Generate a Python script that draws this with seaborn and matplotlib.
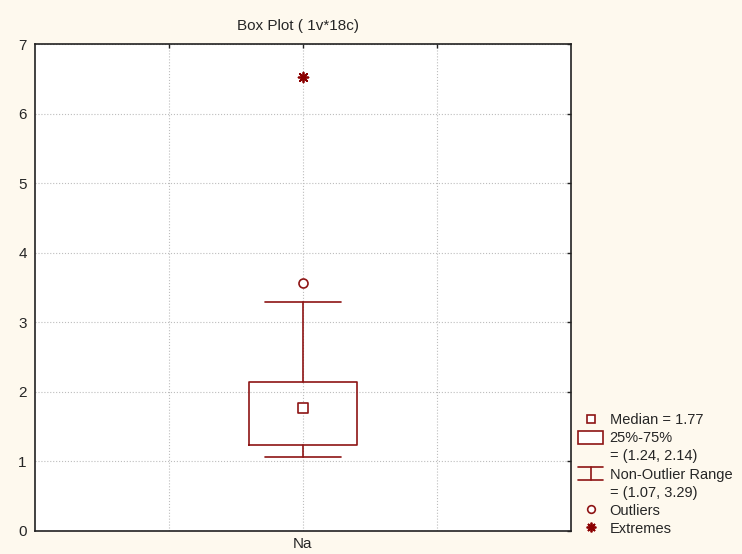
import matplotlib
matplotlib.use("Agg")
import matplotlib.pyplot as plt
import seaborn as sns
from matplotlib.lines import Line2D
from matplotlib.patches import Rectangle
from matplotlib.legend_handler import HandlerBase

# --- data ---
variable = "Na"
median = 1.77
q1, q3 = 1.24, 2.14
whisker_lo, whisker_hi = 1.07, 3.29
outliers = [3.56]
extremes = [6.52]

BOX_COLOR = "#8E1414"
BG = "#FEF9EE"

sns.set_style("white")
plt.rcParams["font.family"] = ["Liberation Sans", "DejaVu Sans"]
plt.rcParams["font.size"] = 10.5


class WhiskerHandler(HandlerBase):
    # draws the little "I" shaped non-outlier range symbol
    def create_artists(self, legend, orig_handle, xdescent, ydescent,
                       width, height, fontsize, trans):
        x0, x1 = -xdescent, -xdescent + width
        y0, y1 = -ydescent, -ydescent + height
        xm = (x0 + x1) / 2
        segs = [([x0, x1], [y1, y1]), ([xm, xm], [y0, y1]), ([x0, x1], [y0, y0])]
        out = []
        for xs, ys in segs:
            ln = Line2D(xs, ys, color=orig_handle.get_color(), lw=1.2)
            ln.set_transform(trans)
            out.append(ln)
        return out


fig = plt.figure(figsize=(7.42, 5.54), dpi=100, facecolor=BG)
ax = fig.add_axes([35 / 742, 1 - 531 / 554, 536 / 742, 487 / 554])
ax.set_facecolor("white")

stats = [{"med": median, "q1": q1, "q3": q3,
          "whislo": whisker_lo, "whishi": whisker_hi,
          "fliers": [], "label": variable}]
ax.bxp(stats, positions=[0], widths=0.8, capwidths=0.56, showfliers=False,
       boxprops=dict(color=BOX_COLOR, lw=1.2),
       whiskerprops=dict(color=BOX_COLOR, lw=1.2),
       capprops=dict(color=BOX_COLOR, lw=1.2),
       medianprops=dict(visible=False), manage_ticks=False)

# markers for median / outliers / extremes
sns.scatterplot(x=[0], y=[median], marker="s", s=42, facecolor="white",
                edgecolor=BOX_COLOR, linewidth=1.2, ax=ax, zorder=5)
sns.scatterplot(x=[0] * len(outliers), y=outliers, marker="o", s=42,
                facecolor="white", edgecolor=BOX_COLOR, linewidth=1.2, ax=ax, zorder=5)
sns.scatterplot(x=[0] * len(extremes), y=extremes, marker=(8, 2, 0), s=50,
                color="#8B0000", edgecolor="#8B0000", linewidth=1.3, ax=ax, zorder=5)

ax.set_xlim(-2, 2)
ax.set_ylim(0, 7)
ax.set_xticks([-1, 0, 1])
ax.set_xticklabels(["", variable, ""])
ax.set_yticks(range(0, 8))
ax.set_xlabel("")
ax.set_ylabel("")
ax.grid(True, linestyle=":", color="#BDBDBD", lw=0.8)
ax.set_axisbelow(True)
ax.tick_params(direction="in", length=3, width=1, color="#222222",
               top=True, right=True, labelsize=11)
ax.tick_params(axis="y", pad=6)
ax.tick_params(axis="x", pad=4)
for sp in ax.spines.values():
    sp.set_visible(True)
    sp.set_color("#222222")
    sp.set_linewidth(1.2)

ax.set_title("Box Plot ( 1v*18c)", fontsize=11, pad=10, x=0.49)

# --- legend (one row per text line, handles aligned with the first line) ---
blank = Line2D([], [], linestyle="none")
h_med = Line2D([], [], marker="s", linestyle="none", markersize=6,
               markerfacecolor="white", markeredgecolor=BOX_COLOR, markeredgewidth=1.2)
h_box = Rectangle((0, 0), 1, 1, facecolor="white", edgecolor=BOX_COLOR, lw=1.2)
h_whisk = Line2D([], [], color=BOX_COLOR)
h_out = Line2D([], [], marker="o", linestyle="none", markersize=5.5,
               markerfacecolor="white", markeredgecolor=BOX_COLOR, markeredgewidth=1.2)
h_ext = Line2D([], [], marker=(8, 2, 0), linestyle="none", markersize=7,
               color="#8B0000", markeredgewidth=1.3)

handles = [h_med, h_box, blank, h_whisk, blank, h_out, h_ext]
labels = [f"Median = {median:.2f}", "25%-75%", f"= ({q1:.2f}, {q3:.2f})",
          "Non-Outlier Range", f"= ({whisker_lo:.2f}, {whisker_hi:.2f})",
          "Outliers", "Extremes"]

leg = fig.legend(handles, labels, loc="lower left",
                 bbox_to_anchor=(568 / 742, 1 - 546 / 554),
                 frameon=False, fontsize=10.5, handlelength=1.7, handleheight=0.95,
                 handletextpad=0.45, labelspacing=0.26, borderpad=0.2,
                 handler_map={h_whisk: WhiskerHandler()})

fig.savefig("out.png", dpi=100, facecolor=BG)
